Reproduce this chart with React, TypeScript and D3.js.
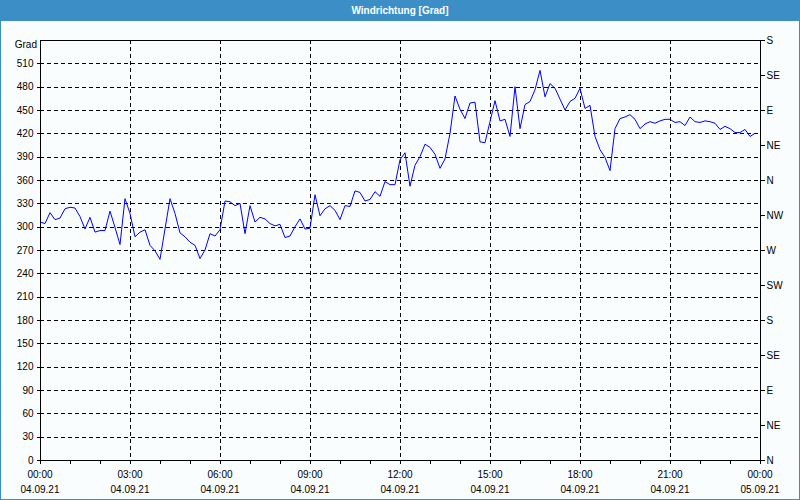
import React, { useEffect, useRef } from "react";
import * as d3 from "d3";

// wind direction in degrees, one reading every 10 minutes from 04.09.21 00:00
const windDirection = [
  306, 304, 318, 309, 311, 323, 325, 324, 313, 297,
  312, 293, 295, 295, 320, 299, 277, 336, 317, 287,
  293, 296, 276, 269, 258, 297, 336, 317, 292, 287,
  280, 276, 259, 270, 291, 288, 296, 333, 332, 327,
  330, 291, 327, 306, 312, 310, 304, 301, 303, 286,
  288, 300, 310, 297, 298, 341, 314, 323, 327, 321,
  309, 327, 326, 346, 344, 333, 335, 345, 339, 358,
  354, 354, 386, 395, 352, 379, 390, 406, 402, 393,
  375, 387, 420, 468, 451, 439, 459, 460, 409, 408,
  435, 462, 436, 438, 416, 480, 426, 457, 461, 476,
  501, 467, 484, 478, 464, 450, 461, 465, 478, 452,
  456, 416, 399, 389, 372, 426, 439, 441, 444, 438,
  426, 432, 435, 433, 436, 438, 438, 434, 435, 430,
  441, 435, 434, 436, 435, 433, 425, 429, 426, 421,
  421, 425, 416, 420,
];

const leftTicks = [0, 30, 60, 90, 120, 150, 180, 210, 240, 270, 300, 330, 360, 390, 420, 450, 480, 510];
const rightTicks = [0, 45, 90, 135, 180, 225, 270, 315, 360, 405, 450, 495, 540];
const compassLabels = ["N", "NE", "E", "SE", "S", "SW", "W", "NW", "N", "NE", "E", "SE", "S"];
const timeLabels = ["00:00", "03:00", "06:00", "09:00", "12:00", "15:00", "18:00", "21:00", "00:00"];
const dateLabels = ["04.09.21", "04.09.21", "04.09.21", "04.09.21", "04.09.21", "04.09.21", "04.09.21", "04.09.21", "05.09.21"];

const start = new Date(2021, 8, 4, 0, 0);
const end = new Date(2021, 8, 5, 0, 0);

const W = 800;
const H = 500;
const margin = { top: 40, right: 40, bottom: 40, left: 40 };
const font = "'Liberation Sans', Arial, sans-serif";

const App = () => {
  const ref: any = useRef();

  useEffect(() => {
    const svg = d3.select(ref.current);
    svg.selectAll("*").remove();

    const x = d3
      .scaleTime()
      .domain([start, end])
      .range([margin.left, W - margin.right]);
    const y = d3
      .scaleLinear()
      .domain([0, 540])
      .range([H - margin.bottom, margin.top]);

    // background + frame
    svg.append("rect").attr("width", W).attr("height", H).attr("fill", "#fafdfd");
    svg
      .append("rect")
      .attr("x", 0.5)
      .attr("y", 0.5)
      .attr("width", W - 1)
      .attr("height", H - 1)
      .attr("fill", "none")
      .attr("stroke", "#3c8fc6")
      .attr("stroke-width", 1);

    // title bar
    svg.append("rect").attr("width", W).attr("height", 21).attr("fill", "#3c8fc6");
    svg
      .append("text")
      .attr("x", W / 2)
      .attr("y", 14)
      .attr("text-anchor", "middle")
      .attr("fill", "#fff")
      .style("font", `bold 10px ${font}`)
      .text("Windrichtung [Grad]");

    const g = svg.append("g").attr("shape-rendering", "crispEdges");

    // horizontal grid
    g.selectAll(".hgrid")
      .data(leftTicks.filter((d) => d > 0))
      .join("line")
      .attr("x1", margin.left)
      .attr("x2", W - margin.right)
      .attr("y1", (d) => Math.round(y(d)) + 0.5)
      .attr("y2", (d) => Math.round(y(d)) + 0.5)
      .attr("stroke", "#000")
      .attr("stroke-dasharray", "4,3");

    // vertical grid every 3h
    const majorTimes = d3.timeHour.every(3)!.range(start, end).slice(1);
    g.selectAll(".vgrid")
      .data(majorTimes)
      .join("line")
      .attr("x1", (d: any) => Math.round(x(d)) + 0.5)
      .attr("x2", (d: any) => Math.round(x(d)) + 0.5)
      .attr("y1", margin.top)
      .attr("y2", H - margin.bottom)
      .attr("stroke", "#000")
      .attr("stroke-dasharray", "4,3");

    // plot frame
    g.append("rect")
      .attr("x", margin.left + 0.5)
      .attr("y", margin.top + 0.5)
      .attr("width", W - margin.left - margin.right)
      .attr("height", H - margin.top - margin.bottom)
      .attr("fill", "none")
      .attr("stroke", "#000");

    // left axis
    const left = svg
      .append("g")
      .attr("transform", `translate(${margin.left + 0.5},0)`)
      .call(d3.axisLeft(y).tickValues(leftTicks).tickSize(4).tickPadding(3));
    left.select(".domain").remove();
    left.selectAll("line").attr("shape-rendering", "crispEdges");
    left.selectAll("text").style("font", `10px ${font}`).attr("fill", "#000");

    svg
      .append("text")
      .attr("x", 37)
      .attr("y", 48)
      .attr("text-anchor", "end")
      .style("font", `10px ${font}`)
      .text("Grad");

    // right axis (compass)
    const right = svg
      .append("g")
      .attr("transform", `translate(${W - margin.right + 0.5},0)`)
      .call(
        d3
          .axisRight(y)
          .tickValues(rightTicks)
          .tickSize(4)
          .tickPadding(2)
          .tickFormat((_d, i) => compassLabels[i])
      );
    right.select(".domain").remove();
    right.selectAll("line").attr("shape-rendering", "crispEdges");
    right.selectAll("text").style("font", `10px ${font}`).attr("fill", "#000");

    // bottom axis: hourly minor ticks, labelled every 3h
    const bottom = svg
      .append("g")
      .attr("transform", `translate(0,${H - margin.bottom + 0.5})`);
    bottom
      .call(
        d3
          .axisBottom(x)
          .ticks(d3.timeHour.every(1))
          .tickSize(3)
          .tickFormat(() => "")
      )
      .select(".domain")
      .remove();
    bottom.selectAll("line").attr("shape-rendering", "crispEdges");

    const labelTimes = d3.timeHour.every(3)!.range(start, d3.timeMinute.offset(end, 1));
    const lbl = svg.append("g").style("font", `10px ${font}`);
    lbl
      .selectAll(".time")
      .data(labelTimes)
      .join("text")
      .attr("x", (d: any) => x(d))
      .attr("y", 478)
      .attr("text-anchor", "middle")
      .text((_d, i) => timeLabels[i]);
    lbl
      .selectAll(".date")
      .data(labelTimes)
      .join("text")
      .attr("x", (d: any) => x(d))
      .attr("y", 493)
      .attr("text-anchor", "middle")
      .text((_d, i) => dateLabels[i]);

    // data line
    const line = d3
      .line<number>()
      .x((_d, i) => x(d3.timeMinute.offset(start, i * 10)))
      .y((d) => y(d));
    svg
      .append("path")
      .datum(windDirection)
      .attr("d", line)
      .attr("fill", "none")
      .attr("stroke", "#0000ff")
      .attr("stroke-width", 1);
  }, []);

  return (
    <svg
      ref={ref}
      width={W}
      height={H}
      style={{ position: "absolute", left: 0, top: 0, display: "block" }}
    ></svg>
  );
};

export default App;
